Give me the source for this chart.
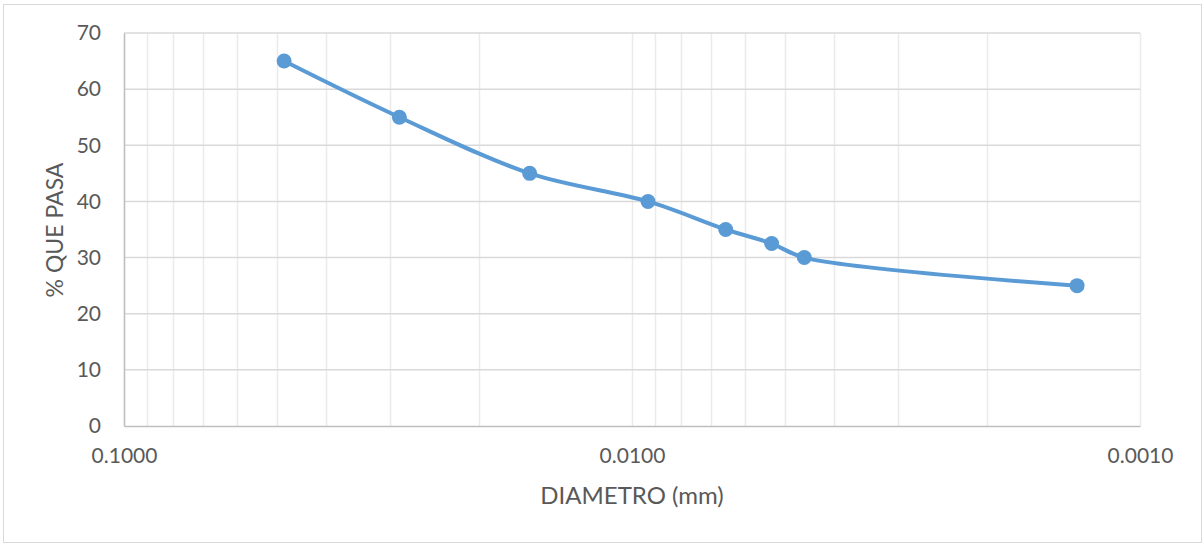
<!DOCTYPE html>
<html>
<head>
<meta charset="utf-8">
<script src="https://cdn.jsdelivr.net/npm/d3@7"></script>
<style>
  body { margin: 0; background: #fff; }
  text { font-family: Lato, "Open Sans", sans-serif; fill: #595959; }
</style>
</head>
<body>
<div></div>
<script>
// diameters (mm), and % passing
var diametro = [0.0484, 0.0287, 0.0159, 0.0093, 0.00654, 0.00531, 0.00458, 0.00133];
var pasa = [65, 55, 45, 40, 35, 32.5, 30, 25];
var xTickLabels = [0.1, 0.01, 0.001];
var yTicks = [0, 10, 20, 30, 40, 50, 60, 70];

var data = diametro.map(function(d, i) {
  return { d: d, p: pasa[i] };
});

var width = 1204;
var height = 544;
var margin = { top: 33, right: 64, bottom: 118, left: 124 };
var plotW = 1140 - margin.left;
var plotH = 426 - margin.top;

var svg = d3
  .select("body")
  .select("div")
  .append("svg")
  .attr("width", width)
  .attr("height", height);

// outer chart border
svg
  .append("rect")
  .attr("x", 3.5)
  .attr("y", 4.5)
  .attr("width", 1198)
  .attr("height", 538)
  .attr("fill", "#fff")
  .attr("stroke", "#d9d9d9")
  .attr("stroke-width", 1);

var chartGroup = svg
  .append("g")
  .attr("transform", "translate(" + margin.left + "," + margin.top + ")");

// reversed log axis, 0.1 on the left
var xScale = d3
  .scaleLog()
  .domain([0.1, 0.001])
  .range([0, plotW]);

var yScale = d3
  .scaleLinear()
  .domain([0, 70])
  .range([plotH, 0]);

//==========grid lines==========
chartGroup
  .append("g")
  .selectAll("line")
  .data(xScale.ticks())
  .enter()
  .append("line")
  .attr("x1", function(d) { return Math.round(xScale(d)) + 0.5; })
  .attr("x2", function(d) { return Math.round(xScale(d)) + 0.5; })
  .attr("y1", 0)
  .attr("y2", plotH)
  .attr("stroke", "#ebebeb")
  .attr("stroke-width", 1.5);

chartGroup
  .append("g")
  .selectAll("line")
  .data(yTicks.slice(1))
  .enter()
  .append("line")
  .attr("x1", 0)
  .attr("x2", plotW)
  .attr("y1", function(d) { return yScale(d); })
  .attr("y2", function(d) { return yScale(d); })
  .attr("stroke", "#d9d9d9")
  .attr("stroke-width", 1.5);

//==========axes==========
var xAxis = d3
  .axisBottom(xScale)
  .tickValues(xTickLabels)
  .tickFormat(d3.format(".4f"))
  .tickSize(0)
  .tickPadding(22);

var gx = chartGroup
  .append("g")
  .attr("class", "x axis")
  .attr("transform", "translate(0," + plotH + ")")
  .call(xAxis);
gx.select(".domain").attr("stroke", "#bfbfbf").attr("stroke-width", 1.5);
gx.selectAll("text").style("font-size", "21px").attr("fill", "#595959");

var yAxis = d3
  .axisLeft(yScale)
  .tickValues(yTicks)
  .tickSize(0)
  .tickPadding(23);

var gy = chartGroup
  .append("g")
  .attr("class", "y axis")
  .call(yAxis);
gy.select(".domain").attr("stroke", "#bfbfbf").attr("stroke-width", 1.5);
gy.selectAll("text").style("font-size", "21px").attr("fill", "#595959");

//==========axis titles==========
svg
  .append("text")
  .attr("x", 632)
  .attr("y", 504)
  .attr("text-anchor", "middle")
  .style("font-size", "24px")
  .text("DIAMETRO (mm)");

svg
  .append("text")
  .attr("transform", "translate(63,230) rotate(-90)")
  .attr("text-anchor", "middle")
  .style("font-size", "23px")
  .text("% QUE PASA");

//==========series==========
var line = d3
  .line()
  .curve(d3.curveCatmullRom.alpha(0.5))
  .x(function(d) { return xScale(d.d); })
  .y(function(d) { return yScale(d.p); });

chartGroup
  .append("path")
  .attr("d", line(data))
  .attr("fill", "none")
  .attr("stroke", "#5b9bd5")
  .attr("stroke-width", 4)
  .attr("stroke-linecap", "round");

chartGroup
  .append("g")
  .selectAll("circle")
  .data(data)
  .enter()
  .append("circle")
  .attr("cx", function(d) { return xScale(d.d); })
  .attr("cy", function(d) { return yScale(d.p); })
  .attr("r", 7.5)
  .attr("fill", "#5b9bd5");
</script>
</body>
</html>
